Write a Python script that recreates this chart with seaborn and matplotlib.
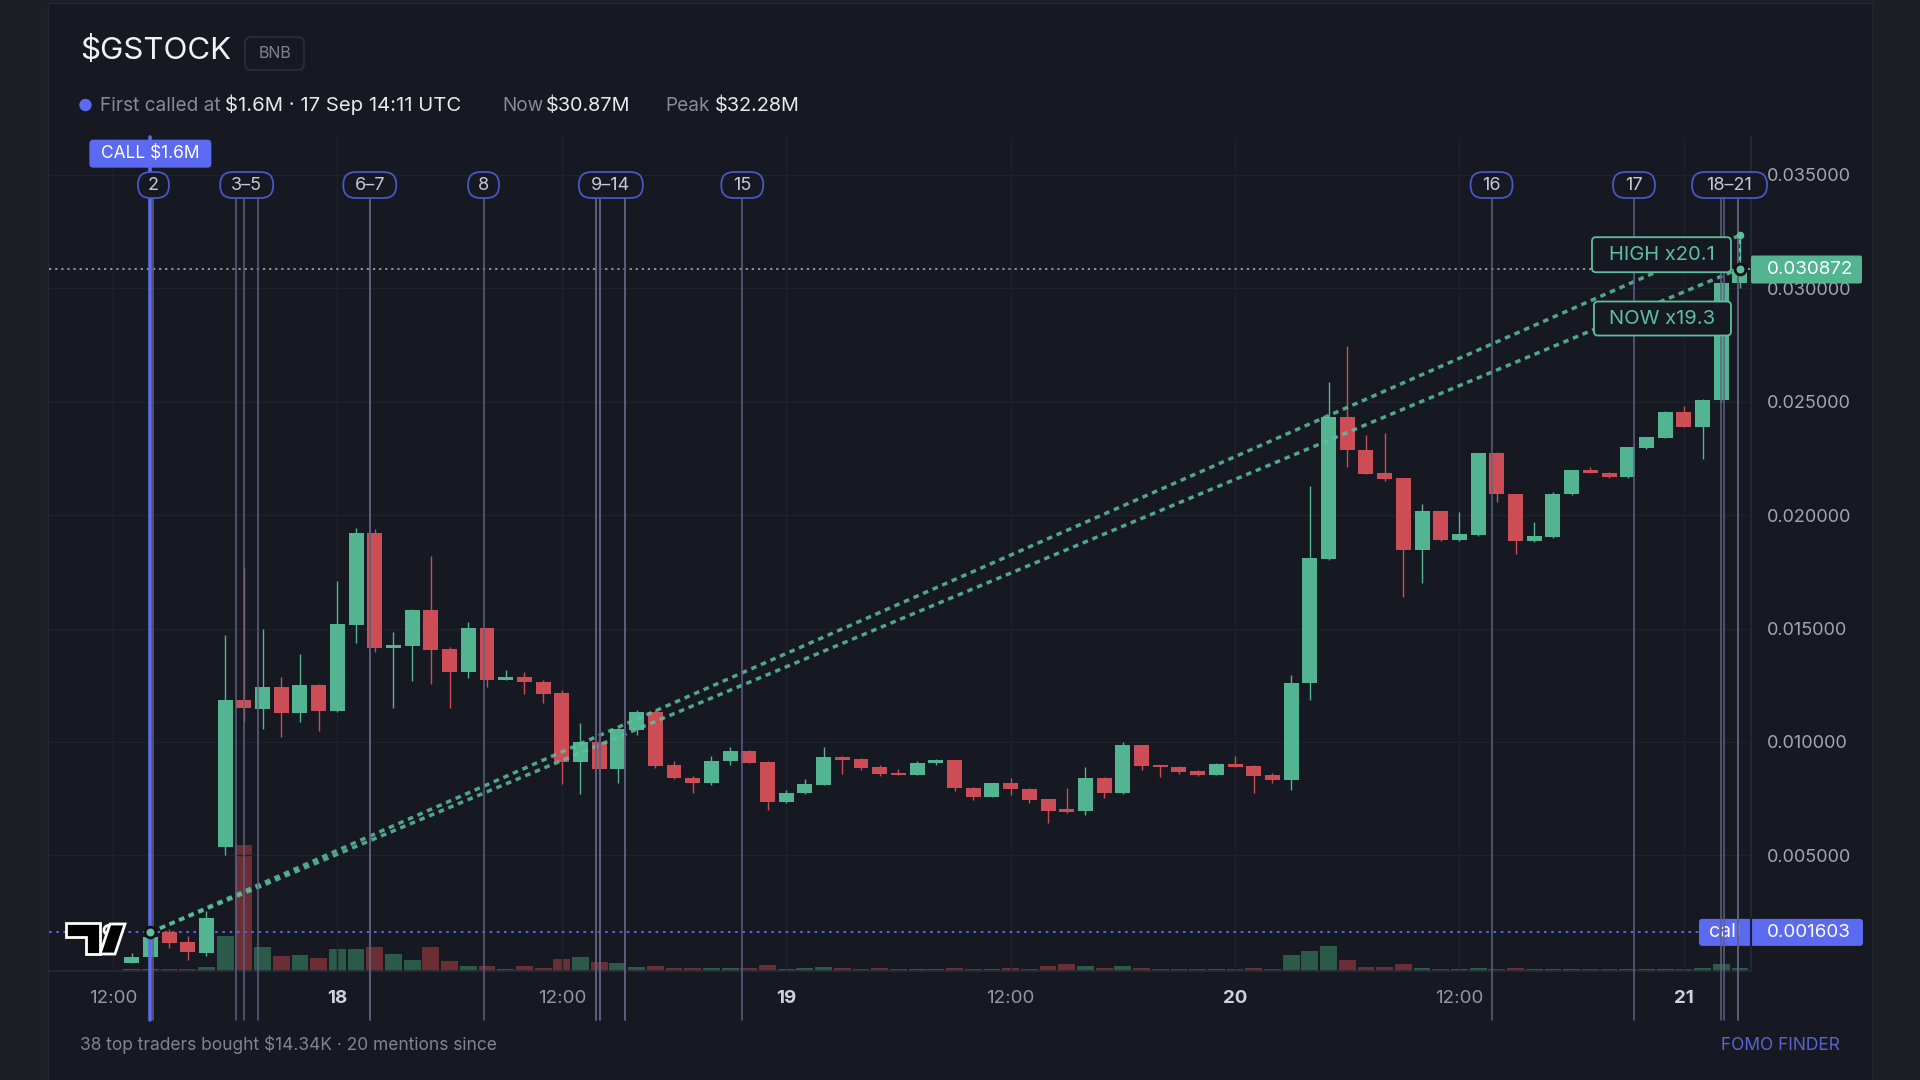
import numpy as np
import pandas as pd
import matplotlib
matplotlib.use("Agg")
import matplotlib.pyplot as plt
import matplotlib.transforms as mtransforms
from matplotlib.patches import FancyBboxPatch, Rectangle, Polygon, Circle
import seaborn as sns

# ---------------- data ----------------
axis_origin = "2025-09-17 12:00"   # first time tick ("12:00")
first_bar = "2025-09-17 13:00"     # hourly candles

opens = [0.00027, 0.00050, 0.00163, 0.00116, 0.00068, 0.00538, 0.01183, 0.01145, 0.01243, 0.01126,
         0.01250, 0.01138, 0.01516, 0.01922, 0.01413, 0.01424, 0.01582, 0.01408, 0.01310, 0.01504,
         0.01273, 0.01285, 0.01265, 0.01214, 0.00913, 0.01001, 0.00879, 0.01053, 0.01133, 0.00898,
         0.00842, 0.00820, 0.00916, 0.00960, 0.00912, 0.00734, 0.00774, 0.00810, 0.00935, 0.00923,
         0.00891, 0.00862, 0.00854, 0.00906, 0.00920, 0.00798, 0.00758, 0.00817, 0.00792, 0.00747,
         0.00704, 0.00697, 0.00842, 0.00776, 0.00986, 0.00898, 0.00891, 0.00873, 0.00854, 0.00903,
         0.00895, 0.00854, 0.00832, 0.01258, 0.01805, 0.02431, 0.02287, 0.02184, 0.02162, 0.01846,
         0.02018, 0.01890, 0.01912, 0.02272, 0.02093, 0.01886, 0.01905, 0.02092, 0.02199, 0.02187,
         0.02167, 0.02295, 0.02341, 0.02456, 0.02390, 0.02507, 0.03022]
highs = [0.00071, 0.00162, 0.00174, 0.00144, 0.00256, 0.01471, 0.01773, 0.01498, 0.01287, 0.01388,
         0.01255, 0.01711, 0.01942, 0.01939, 0.01483, 0.01585, 0.01820, 0.01420, 0.01527, 0.01504,
         0.01318, 0.01310, 0.01275, 0.01231, 0.01085, 0.01017, 0.01060, 0.01140, 0.01140, 0.00916,
         0.00850, 0.00938, 0.00979, 0.00965, 0.00915, 0.00786, 0.00835, 0.00976, 0.00938, 0.00930,
         0.00898, 0.00879, 0.00915, 0.00925, 0.00922, 0.00800, 0.00818, 0.00840, 0.00795, 0.00750,
         0.00795, 0.00890, 0.00845, 0.01001, 0.00988, 0.00900, 0.00893, 0.00876, 0.00905, 0.00939,
         0.00898, 0.00862, 0.01295, 0.02128, 0.02588, 0.02746, 0.02353, 0.02363, 0.02165, 0.02048,
         0.02020, 0.02015, 0.02275, 0.02278, 0.02095, 0.01968, 0.02100, 0.02200, 0.02210, 0.02190,
         0.02300, 0.02345, 0.02458, 0.02481, 0.02510, 0.03030, 0.03234]
lows = [0.00026, 0.00048, 0.00090, 0.00038, 0.00057, 0.00501, 0.01089, 0.01056, 0.01023, 0.01086,
        0.01048, 0.01130, 0.01435, 0.01398, 0.01148, 0.01270, 0.01255, 0.01151, 0.01283, 0.01241,
        0.01273, 0.01210, 0.01170, 0.00814, 0.00771, 0.00875, 0.00817, 0.01030, 0.00884, 0.00838,
        0.00776, 0.00810, 0.00900, 0.00905, 0.00698, 0.00732, 0.00770, 0.00808, 0.00859, 0.00875,
        0.00850, 0.00852, 0.00852, 0.00898, 0.00783, 0.00744, 0.00756, 0.00766, 0.00730, 0.00644,
        0.00685, 0.00678, 0.00752, 0.00770, 0.00876, 0.00847, 0.00860, 0.00850, 0.00852, 0.00889,
        0.00773, 0.00820, 0.00788, 0.01185, 0.01800, 0.02213, 0.02180, 0.02150, 0.01640, 0.01699,
        0.01885, 0.01888, 0.01910, 0.02059, 0.01829, 0.01880, 0.01900, 0.02090, 0.02185, 0.02165,
        0.02165, 0.02290, 0.02340, 0.02388, 0.02247, 0.02500, 0.03000]
closes = [0.00053, 0.00140, 0.00115, 0.00072, 0.00225, 0.01183, 0.01148, 0.01243, 0.01126, 0.01250,
          0.01138, 0.01519, 0.01922, 0.01413, 0.01427, 0.01582, 0.01405, 0.01310, 0.01504, 0.01273,
          0.01285, 0.01265, 0.01211, 0.00913, 0.01001, 0.00879, 0.01056, 0.01133, 0.00895, 0.00840,
          0.00820, 0.00917, 0.00960, 0.00908, 0.00734, 0.00774, 0.00816, 0.00935, 0.00920, 0.00886,
          0.00859, 0.00854, 0.00908, 0.00919, 0.00795, 0.00758, 0.00817, 0.00791, 0.00744, 0.00697,
          0.00692, 0.00842, 0.00776, 0.00986, 0.00895, 0.00888, 0.00867, 0.00854, 0.00903, 0.00891,
          0.00851, 0.00832, 0.01258, 0.01810, 0.02431, 0.02287, 0.02181, 0.02158, 0.01846, 0.02018,
          0.01890, 0.01915, 0.02272, 0.02092, 0.01887, 0.01908, 0.02093, 0.02199, 0.02187, 0.02167,
          0.02299, 0.02343, 0.02456, 0.02390, 0.02507, 0.03022, 0.030872]
volumes = [1.7, 2.3, 2.3, 1.7, 4.0, 35.0, 126.0, 23.7, 15.3, 16.0,
           12.7, 21.7, 21.7, 24.3, 17.0, 11.0, 24.3, 10.3, 5.0, 5.0,
           2.3, 5.0, 3.3, 12.3, 14.3, 8.7, 7.7, 4.3, 5.3, 2.7,
           3.3, 2.7, 2.7, 2.7, 6.0, 1.7, 3.3, 4.3, 2.7, 2.0,
           3.3, 2.0, 2.0, 2.0, 3.3, 2.0, 2.0, 2.7, 2.0, 5.0,
           7.0, 5.0, 2.7, 5.0, 2.7, 2.0, 2.0, 2.0, 2.0, 2.0,
           3.3, 2.0, 16.0, 20.3, 25.3, 11.0, 4.3, 4.3, 7.0, 3.3,
           2.0, 2.0, 2.7, 2.0, 2.7, 2.0, 2.0, 2.0, 2.0, 2.0,
           2.0, 2.0, 2.0, 2.0, 2.7, 7.0, 2.7]

call_time = "2025-09-17 14:11"
call_price = 0.001603
now_price = 0.030872
high_price = 0.03234
high_label = "HIGH x20.1"
now_label = "NOW x19.3"

mention_labels = ["2", "3–5", "6–7", "8", "9–14", "15", "16", "17", "18–21"]
mention_times = [
    ["2025-09-17 14:10"],
    ["2025-09-17 18:34", "2025-09-17 19:01", "2025-09-17 19:44"],
    ["2025-09-18 01:44", "2025-09-18 01:44"],
    ["2025-09-18 07:49"],
    ["2025-09-18 13:51", "2025-09-18 13:51", "2025-09-18 14:01", "2025-09-18 14:01",
     "2025-09-18 15:24", "2025-09-18 15:24"],
    ["2025-09-18 21:39"],
    ["2025-09-20 13:43"],
    ["2025-09-20 21:20"],
    ["2025-09-21 02:00", "2025-09-21 02:10", "2025-09-21 02:53", "2025-09-21 02:53"],
]

price_ticks = [0.005, 0.010, 0.015, 0.020, 0.025, 0.030, 0.035]

# ---------------- style ----------------
OUTER = "#1c1f26"
CARD = "#161921"
GRID = "#1e222c"
GREEN = "#53b492"
RED = "#cd4d57"
VOL_UP = "#2c5a4a"
VOL_DN = "#6a2e34"
TEAL = "#5cbf9e"
BLUE = "#5b6af0"
PILL_EDGE = "#4a55c6"
MENTION = "#5d6280"
GREY = "#868b9a"
WHITE = "#e8e9ee"

sns.set_theme(style="dark", rc={
    "figure.facecolor": OUTER, "axes.facecolor": CARD, "axes.edgecolor": "#262a35",
    "grid.color": GRID, "text.color": WHITE,
})
plt.rcParams["font.family"] = ["Inter", "DejaVu Sans"]

W, H = 1920, 1080
PX = mtransforms.IdentityTransform()

hour = pd.Timedelta(hours=1)
origin = pd.Timestamp(axis_origin)
times = pd.date_range(first_bar, periods=len(opens), freq="h")
df = pd.DataFrame({"x": (times - origin) / hour, "open": opens, "high": highs,
                   "low": lows, "close": closes, "volume": volumes})
df["side"] = np.where(df["close"] >= df["open"], "up", "down")
call_x = (pd.Timestamp(call_time).floor("h") - origin) / hour
last_x = df["x"].iloc[-1]

fig = plt.figure(figsize=(19.2, 10.8), dpi=100)
fig.add_artist(Rectangle((48, 0), 1824, H - 3, transform=PX, fc=CARD, ec="#242731", lw=1, zorder=-5))

ax = fig.add_axes([49 / W, (H - 971) / H, 1702 / W, 834 / H])
vax = ax.twinx()
ax.set_zorder(vax.get_zorder() + 1)
ax.patch.set_visible(False)
vax.patch.set_visible(False)

# volume pane
sns.barplot(data=df, x="x", y="volume", hue="side", palette={"up": VOL_UP, "down": VOL_DN},
            native_scale=True, width=0.9, dodge=False, saturation=1, errorbar=None,
            legend=False, linewidth=0, ax=vax)
vax.set_ylim(0, df["volume"].max() / 0.151)
vax.set_yticks([])
vax.set_ylabel("")
vax.set_xlabel("")
for s in vax.spines.values():
    s.set_visible(False)

# candles
colors = np.where(df["side"] == "up", GREEN, RED)
ax.vlines(df["x"], df["low"], df["high"], colors=colors, lw=1.0, zorder=3)
body_lo = np.minimum(df["open"], df["close"])
body_h = np.maximum((df["close"] - df["open"]).abs(), 0.00004)
ax.bar(df["x"], body_h, bottom=body_lo, width=0.8, color=colors, linewidth=0, zorder=4)

# reference lines
ax.axhline(call_price, color=BLUE, lw=1.3, ls=(0, (1.5, 2.5)), zorder=2)
ax.axhline(now_price, color="#a7b8b6", lw=1.1, ls=(0, (1.5, 2.5)), zorder=2)

proj = pd.DataFrame({"x": [call_x, last_x, call_x, last_x],
                     "y": [call_price, high_price, call_price, now_price],
                     "target": ["high", "high", "now", "now"]})
sns.lineplot(data=proj, x="x", y="y", units="target", estimator=None, color=TEAL,
             lw=2.5, ls=(0, (1.6, 1.4)), alpha=0.85, ax=ax, zorder=5)
ax.plot([last_x, last_x], [now_price, high_price], color=TEAL, lw=1.5, ls=(0, (2, 2)), zorder=5)
sns.scatterplot(x=[call_x, last_x], y=[call_price, now_price], s=60, color=TEAL,
                edgecolor="#0d1015", linewidth=2, ax=ax, zorder=10)
sns.scatterplot(x=[last_x], y=[high_price], s=30, color=TEAL, linewidth=0, ax=ax, zorder=10)

# axes limits / ticks
ax.set_xlim(-3.42, 87.59)
ax.set_ylim(-0.0001, 0.03667)
ax.set_xlabel("")
ax.set_ylabel("")
xt = pd.date_range(origin, periods=8, freq="12h")
ax.set_xticks((xt - origin) / hour,
              [t.strftime("%-d") if t.hour == 0 else t.strftime("%H:%M") for t in xt])
for lab, t in zip(ax.get_xticklabels(), xt):
    if t.hour == 0:
        lab.set_fontweight("bold")
        lab.set_color("#cfd2da")
    else:
        lab.set_color("#9598a3")
ax.yaxis.tick_right()
ax.set_yticks(price_ticks, [f"{v:.6f}" for v in price_ticks])
ax.tick_params(axis="x", length=0, pad=13.5, labelsize=13.5)
ax.tick_params(axis="y", length=0, pad=11.5, labelsize=13, labelcolor="#a3a6b0")
ax.grid(True, color=GRID, lw=1)
for k in ["top", "left"]:
    ax.spines[k].set_visible(False)
for k in ["bottom", "right"]:
    ax.spines[k].set_color("#262a35")

blend = mtransforms.blended_transform_factory(ax.transData, ax.transAxes)
price_side = mtransforms.blended_transform_factory(ax.transAxes, ax.transData)


def anchored(x, y, trans, dx=0, dy=0):
    return mtransforms.Affine2D().translate(dx, dy) + mtransforms.ScaledTranslation(x, y, trans)


def px_box(x, y, trans, w, h, dx=0, dy=0, fc=CARD, ec="none", lw=0, r=4, z=8):
    p = FancyBboxPatch((dx - w / 2, dy - h / 2), w, h, boxstyle=f"round,pad=0,rounding_size={r}",
                       transform=anchored(x, y, trans), fc=fc, ec=ec, lw=lw, zorder=z, clip_on=False)
    ax.add_artist(p)


def px_text(x, y, trans, s, dx=0, dy=0, **kw):
    kw.setdefault("ha", "center")
    kw.setdefault("va", "center")
    ax.text(0, 0, s, transform=anchored(x, y, trans, dx, dy), clip_on=False,
            parse_math=False, **kw)


# mention markers
for label, ts in zip(mention_labels, mention_times):
    xs = [(pd.Timestamp(t) - origin) / hour for t in ts]
    for xv in xs:
        ax.plot([xv, xv], [-0.0588, 0.928], transform=blend, color=MENTION, lw=1.1,
                zorder=7, clip_on=False)
    cx = (min(xs) + max(xs)) / 2
    px_box(cx, 0.9424, blend, 20 + 11 * len(label), 26, fc=CARD, ec=PILL_EDGE, lw=1.3, r=12.5, z=9)
    px_text(cx, 0.9424, blend, label, size=13, color="#c6c9d3", zorder=10)

# call marker
ax.plot([call_x, call_x], [-0.0588, 1.0], transform=blend, color=BLUE, lw=2.6, zorder=6,
        clip_on=False)
px_box(call_x, 0.980, blend, 122, 28, fc=BLUE, r=4, z=9)
px_text(call_x, 0.980, blend, "CALL $1.6M", size=12.5, color="white", zorder=10)

# multiple labels near the latest bar
px_box(last_x, high_price, ax.transData, 139, 35, dx=-78.5, dy=-19.5, fc=CARD, ec=TEAL, lw=1.3, r=4, z=9)
px_text(last_x, high_price, ax.transData, high_label, dx=-78.5, dy=-19.5, size=14.5, color=TEAL, zorder=10)
px_box(last_x, now_price, ax.transData, 137, 34, dx=-77.5, dy=-50, fc=CARD, ec=TEAL, lw=1.3, r=4, z=9)
px_text(last_x, now_price, ax.transData, now_label, dx=-77.5, dy=-50, size=14.5, color=TEAL, zorder=10)

# price scale tags
px_box(1.0, now_price, price_side, 111, 28, dx=55.5, dy=-1, fc="#53b492", r=2, z=9)
px_text(1.0, now_price, price_side, f"{now_price:.6f}", dx=16, dy=-1, ha="left", size=13.5,
        color="white", zorder=10)
px_box(1.0, call_price, price_side, 164, 27, dx=30, fc=BLUE, r=3, z=5)
ax.plot([1.0, 1.0], [call_price - 0.0006, call_price + 0.0006], transform=price_side,
        color="#1a1d40", lw=1.5, zorder=6, clip_on=False)
px_text(1.0, call_price, price_side, "call", dx=-42, ha="left", size=14, color="white", zorder=6)
px_text(1.0, call_price, price_side, f"{call_price:.6f}", dx=16, ha="left", size=13.5,
        color="white", zorder=10)


# ---------------- header / footer ----------------
def ftext(x, y, s, **kw):
    kw.setdefault("va", "baseline")
    kw.setdefault("ha", "left")
    fig.text(x, H - y, s, transform=PX, parse_math=False, **kw)


ftext(80, 59.5, "$GSTOCK", size=22.5, color="#f2f3f6")
fig.add_artist(FancyBboxPatch((245, H - 70), 59, 33, boxstyle="round,pad=0,rounding_size=6",
                              transform=PX, fc=CARD, ec="#2a2e39", lw=1.3))
ftext(274.5, 54, "BNB", size=11.5, color="#7e8392", ha="center", va="center")

fig.add_artist(Circle((85.5, H - 105), 5.5, transform=PX, color=BLUE))
ftext(100, 111, "First called at", size=13.7, color=GREY)
ftext(225, 111, "$1.6M · 17 Sep 14:11 UTC", size=14.6, color=WHITE)
ftext(502, 111, "Now", size=13.7, color=GREY)
ftext(546, 111, "$30.87M", size=14.3, color=WHITE)
ftext(665, 111, "Peak", size=13.7, color=GREY)
ftext(715, 111, "$32.28M", size=14.3, color=WHITE)

ftext(80, 1050, "38 top traders bought $14.34K · 20 mentions since", size=12.5, color="#80848f")
ftext(1840, 1050, "FOMO FINDER", size=12.5, color="#5a63d2", ha="right")

# TradingView-style logo
logo_kw = dict(transform=PX, fc="black", ec="white", lw=2.0, zorder=20)
fig.add_artist(Polygon([(66, H - 923), (100, H - 923), (100, H - 954), (86, H - 954),
                        (86, H - 937), (66, H - 937)], **logo_kw))
fig.add_artist(Circle((108.5, H - 930), 4.5, **logo_kw))
fig.add_artist(Polygon([(100, H - 954), (115, H - 954), (125, H - 924), (110, H - 924)], **logo_kw))

fig.savefig("out.png", dpi=100, facecolor=OUTER)
